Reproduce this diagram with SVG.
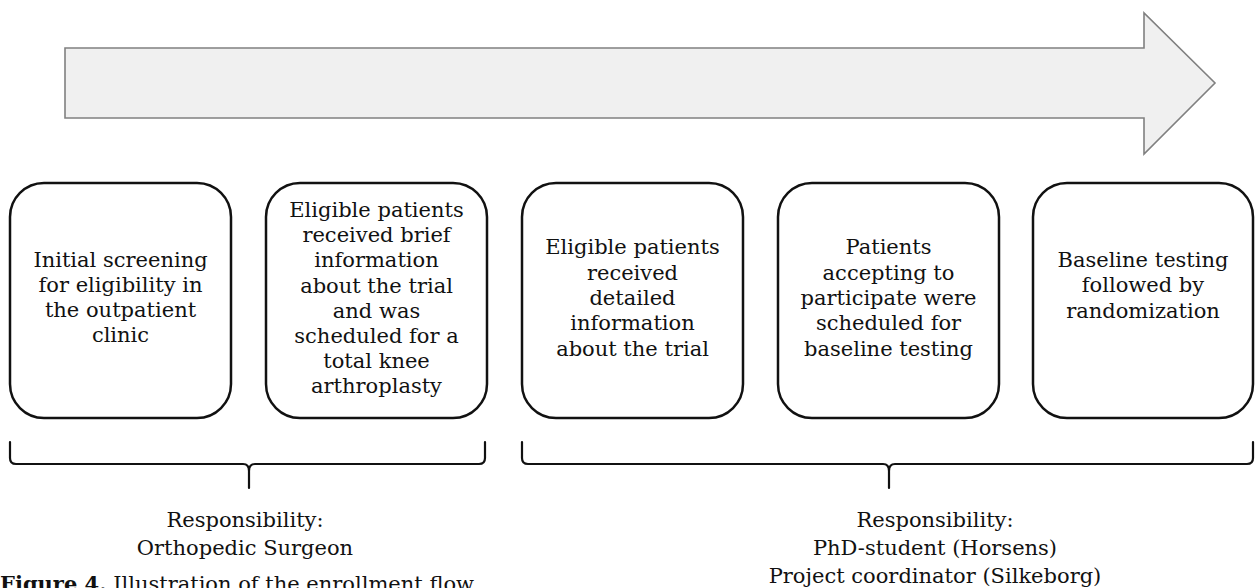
<svg xmlns="http://www.w3.org/2000/svg" width="1255" height="588" viewBox="0 0 1255 588">
<style>
.box{fill:#fff;stroke:#111;stroke-width:2.5}
.t{font-family:"DejaVu Serif","Liberation Serif",serif;font-size:21px;fill:#111;text-anchor:middle}
.lbl{font-family:"DejaVu Serif","Liberation Serif",serif;font-size:21px;fill:#111;text-anchor:middle}
.br{fill:none;stroke:#111;stroke-width:2.2;stroke-linejoin:round;stroke-linecap:round}
.cap{font-family:"DejaVu Serif","Liberation Serif",serif;font-size:21px;fill:#111}
</style>
<rect width="1255" height="588" fill="#fff"/>
<g id="timeline-arrow">
<polygon points="65,48 1144,48 1144,13 1215,83 1144,154 1144,118 65,118" fill="#f0f0f0" stroke="#808080" stroke-width="1.6"/>
</g>
<g id="node1">
<rect class="box" x="10" y="183" width="221" height="235" rx="34" ry="34"/>
<text class="t"><tspan x="120.5" y="267">Initial screening</tspan><tspan x="120.5" dy="25">for eligibility in</tspan><tspan x="120.5" dy="25">the outpatient</tspan><tspan x="120.5" dy="25">clinic</tspan></text>
</g>
<g id="node2">
<rect class="box" x="266" y="183" width="221" height="235" rx="34" ry="34"/>
<text class="t"><tspan x="376.5" y="217">Eligible patients</tspan><tspan x="376.5" dy="25.2">received brief</tspan><tspan x="376.5" dy="25.2">information</tspan><tspan x="376.5" dy="25.2">about the trial</tspan><tspan x="376.5" dy="25.2">and was</tspan><tspan x="376.5" dy="25.2">scheduled for a</tspan><tspan x="376.5" dy="25.2">total knee</tspan><tspan x="376.5" dy="25.2">arthroplasty</tspan></text>
</g>
<g id="node3">
<rect class="box" x="522" y="183" width="221" height="235" rx="34" ry="34"/>
<text class="t"><tspan x="632.5" y="254.4">Eligible patients</tspan><tspan x="632.5" dy="25.3">received</tspan><tspan x="632.5" dy="25.3">detailed</tspan><tspan x="632.5" dy="25.3">information</tspan><tspan x="632.5" dy="25.3">about the trial</tspan></text>
</g>
<g id="node4">
<rect class="box" x="778" y="183" width="221" height="235" rx="34" ry="34"/>
<text class="t"><tspan x="888.5" y="254.4">Patients</tspan><tspan x="888.5" dy="25.3">accepting to</tspan><tspan x="888.5" dy="25.3">participate were</tspan><tspan x="888.5" dy="25.3">scheduled for</tspan><tspan x="888.5" dy="25.3">baseline testing</tspan></text>
</g>
<g id="node5">
<rect class="box" x="1033" y="183" width="220" height="235" rx="34" ry="34"/>
<text class="t"><tspan x="1143" y="267">Baseline testing</tspan><tspan x="1143" dy="25.3">followed by</tspan><tspan x="1143" dy="25.3">randomization</tspan></text>
</g>
<g id="connectors">
<path class="br" d="M10,442 V458 Q10,464 16,464 H243 Q249,464 249,471 V488 M249,471 Q249,464 255,464 H479 Q485,464 485,458 V442"/>
<path class="br" d="M522,442 V458 Q522,464 528,464 H883 Q889,464 889,471 V488 M889,471 Q889,464 895,464 H1247 Q1253,464 1253,458 V442"/>
</g>
<g id="label-left">
<text class="lbl"><tspan x="245" y="527">Responsibility:</tspan><tspan x="245" dy="28">Orthopedic Surgeon</tspan></text>
</g>
<g id="label-right">
<text class="lbl"><tspan x="935" y="527">Responsibility:</tspan><tspan x="935" dy="28">PhD-student (Horsens)</tspan><tspan x="935" dy="28">Project coordinator (Silkeborg)</tspan></text>
</g>
<g id="caption">
<text class="cap" x="0" y="591"><tspan font-weight="bold">Figure 4.</tspan> Illustration of the enrollment flow</text>
</g>
</svg>
